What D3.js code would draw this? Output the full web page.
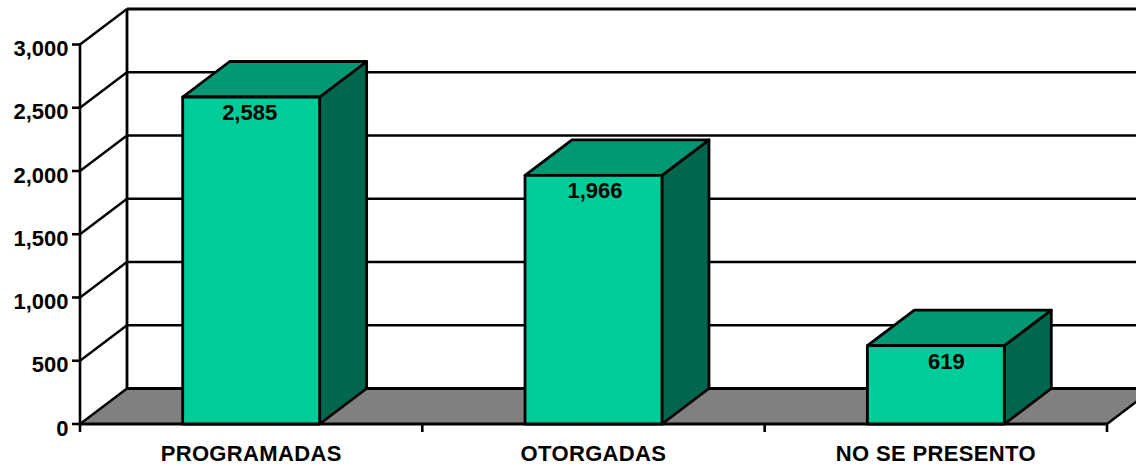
<!DOCTYPE html>
<html><head><meta charset="utf-8">
<script src="https://cdn.jsdelivr.net/npm/d3@7"></script>
<style>html,body{margin:0;padding:0;background:#fff;overflow:hidden}svg{display:block}text{font-family:"Liberation Sans",Arial,sans-serif;font-weight:bold;fill:#000}</style>
</head><body><svg id="c" width="1136" height="466"></svg>
<script>
const categories = ["PROGRAMADAS","OTORGADAS","NO SE PRESENTO"];
const values = [2585,1966,619];
const valueLabels = ["2,585","1,966","619"];
const labelShift = [-1.5,1.5,10.5];
const yTicks = [0,500,1000,1500,2000,2500,3000];

const W=1136,H=466,dx=47,dy=-35.5;
const x=d3.scaleBand().domain(categories).range([80,1107]).paddingInner(0.6).paddingOuter(0.3);
const band=d3.scalePoint().domain(d3.range(categories.length+1)).range([80,1107]);
const y=d3.scaleLinear().domain([0,3000]).range([424,44.5]);
const svg=d3.select("#c");
const line=(g,x1,y1,x2,y2,w)=>g.append("line").attr("x1",x1).attr("y1",y1).attr("x2",x2).attr("y2",y2).attr("stroke","#000").attr("stroke-width",w);
const x0=80,x1=1107;

// floor
svg.append("path").attr("d",`M${x0},${y(0)}L${x0+dx},${y(0)+dy}L${x1+dx},${y(0)+dy}L${x1},${y(0)}Z`).attr("fill","#808080");
// walls
const wall=svg.append("g");
yTicks.forEach(t=>{
  if(t>0) line(wall,x0+dx,y(t)+dy,W+30,y(t)+dy,t===3000?3:2.4);
  line(wall,x0,y(t),x0+dx,y(t)+dy,2.4);
});
line(wall,x0+dx,y(0)+dy,W+30,y(0)+dy,3.2);
line(wall,x0,y(0),x0,y(3000),2.6);
line(wall,x0+dx,y(0)+dy,x0+dx,y(3000)+dy,2.8);
line(wall,x1,y(0),x1+dx,y(0)+dy,2.4);
// front baseline
line(wall,x0,y(0),x1,y(0),3);

// bars
const g=svg.append("g").selectAll("g").data(categories).join("g");
g.each(function(c,i){
  const s=d3.select(this),l=x(c),r=l+x.bandwidth(),t=y(values[i]),b=y(0);
  const sty=p=>p.attr("stroke","#000").attr("stroke-width",2.8).attr("stroke-linejoin","round");
  sty(s.append("path").attr("d",`M${r},${t}L${r+dx},${t+dy}L${r+dx},${b+dy}L${r},${b}Z`).attr("fill","#00664d"));
  sty(s.append("path").attr("d",`M${l},${t}L${l+dx},${t+dy}L${r+dx},${t+dy}L${r},${t}Z`).attr("fill","#009973"));
  sty(s.append("rect").attr("x",l).attr("y",t).attr("width",r-l).attr("height",b-t).attr("fill","#00cc99"));
  s.append("text").attr("x",l+x.bandwidth()/2+labelShift[i]).attr("y",t+23).attr("text-anchor","middle").attr("font-size",22).text(valueLabels[i]);
});

// axes
const ax=svg.append("g");
yTicks.forEach(t=>{
  line(ax,x0-8,y(t),x0,y(t),2.6);
  ax.append("text").attr("x",68.5).attr("y",y(t)+11.5).attr("text-anchor","end").attr("font-size",22).text(d3.format(",")(t));
});
band.domain().forEach(i=>line(ax,band(i),y(0),band(i),y(0)+8,2.6));
categories.forEach(c=>ax.append("text").attr("x",x(c)+x.bandwidth()/2).attr("y",461).attr("text-anchor","middle").attr("font-size",22).attr("letter-spacing",0.35).text(c));
</script></body></html>
